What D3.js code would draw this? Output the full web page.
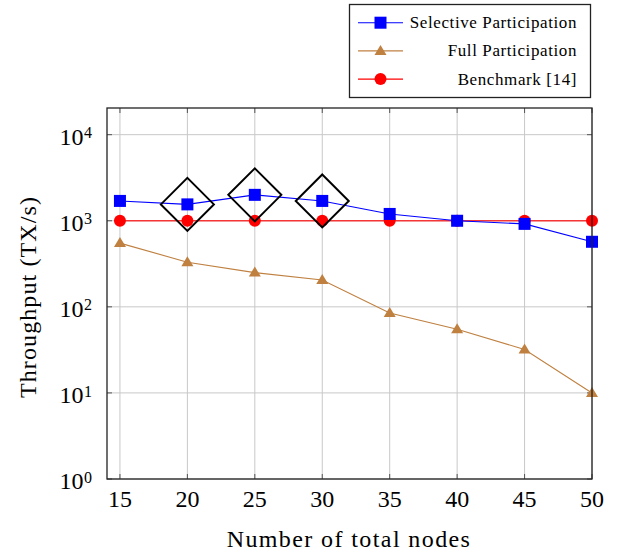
<!DOCTYPE html>
<html>
<head>
<meta charset="utf-8">
<script src="https://cdn.jsdelivr.net/npm/d3@7"></script>
<style>
  body { margin: 0; background: #fff; }
  text { font-family: "Liberation Serif", "DejaVu Serif", serif; }
</style>
</head>
<body>
<div id="chart"></div>
<script>
// data
const nodes = [15, 20, 25, 30, 35, 40, 45, 50];
const selective = [1700, 1550, 2000, 1700, 1200, 1000, 920, 570];
const full = [550, 330, 250, 205, 85, 55, 32, 10];
const benchmark = [1000, 1000, 1000, 1000, 1000, 1000, 1000, 1000];
const highlighted = [20, 25, 30];
const yTicks = [1, 10, 100, 1000, 10000];
const seriesNames = ["Selective Participation", "Full Participation", "Benchmark [14]"];

const width = 619;
const height = 554;
const margin = { top: 108, right: 27, bottom: 75, left: 107 };

const svg = d3.select("#chart")
  .append("svg")
  .attr("width", width)
  .attr("height", height);

const x = d3.scaleLinear()
  .domain([14.04, 50])
  .range([margin.left, width - margin.right]);

const y = d3.scaleLog()
  .domain([1, Math.pow(10, 4.31)])
  .range([height - margin.bottom, margin.top]);

const x0 = margin.left, x1 = width - margin.right;
const y0 = height - margin.bottom, y1 = margin.top;

// grid
svg.append("g").selectAll("line")
  .data(nodes)
  .enter().append("line")
  .attr("x1", d => x(d)).attr("x2", d => x(d))
  .attr("y1", y0).attr("y2", y1)
  .attr("stroke", "#c8c8c8").attr("stroke-width", 1);

svg.append("g").selectAll("line")
  .data(yTicks)
  .enter().append("line")
  .attr("x1", x0).attr("x2", x1)
  .attr("y1", d => y(d)).attr("y2", d => y(d))
  .attr("stroke", "#c8c8c8").attr("stroke-width", 1);

// inner tick marks on all four sides
const tickLen = 5;
nodes.forEach(d => {
  svg.append("line").attr("x1", x(d)).attr("x2", x(d)).attr("y1", y0).attr("y2", y0 - tickLen)
    .attr("stroke", "#555");
  svg.append("line").attr("x1", x(d)).attr("x2", x(d)).attr("y1", y1).attr("y2", y1 + tickLen)
    .attr("stroke", "#555");
});
yTicks.forEach(d => {
  svg.append("line").attr("x1", x0).attr("x2", x0 + tickLen).attr("y1", y(d)).attr("y2", y(d))
    .attr("stroke", "#555");
  svg.append("line").attr("x1", x1).attr("x2", x1 - tickLen).attr("y1", y(d)).attr("y2", y(d))
    .attr("stroke", "#555");
});

// tick labels
svg.append("g").selectAll("text")
  .data(nodes)
  .enter().append("text")
  .attr("x", d => x(d))
  .attr("y", y0 + 28)
  .attr("text-anchor", "middle")
  .attr("font-size", 24)
  .text(d => d);

svg.append("g").selectAll("text")
  .data(yTicks)
  .enter().append("text")
  .attr("x", 83.5)
  .attr("y", d => y(d) + 10.3)
  .attr("text-anchor", "end")
  .attr("font-size", 24)
  .text("10");
svg.append("g").selectAll("text")
  .data(yTicks)
  .enter().append("text")
  .attr("x", 84)
  .attr("y", d => y(d) + 3.6)
  .attr("font-size", 16)
  .text(d => Math.round(Math.log10(d)));

// axis titles
svg.append("text")
  .attr("x", 349)
  .attr("y", 547)
  .attr("text-anchor", "middle")
  .attr("font-size", 24)
  .attr("letter-spacing", 1.4)
  .text("Number of total nodes");

svg.append("text")
  .attr("transform", `translate(36,297) rotate(-90)`)
  .attr("text-anchor", "middle")
  .attr("font-size", 24)
  .attr("letter-spacing", 1.1)
  .text("Throughput (TX/s)");

// series
const line = d3.line().x(d => x(d[0])).y(d => y(d[1]));
const colors = ["#0000ff", "#bf8040", "#ff0000"];
const allSeries = [selective, full, benchmark];

function drawMarker(g, kind, cx, cy) {
  if (kind === 0) {
    g.append("rect").attr("x", cx - 6).attr("y", cy - 6).attr("width", 12).attr("height", 12)
      .attr("fill", colors[0]);
  } else if (kind === 1) {
    g.append("path")
      .attr("d", `M${cx},${cy - 6}L${cx + 6},${cy + 4}L${cx - 6},${cy + 4}Z`)
      .attr("fill", colors[1]);
  } else {
    g.append("circle").attr("cx", cx).attr("cy", cy).attr("r", 6).attr("fill", colors[2]);
  }
}

// draw order: red, brown, blue on top
[2, 1, 0].forEach(k => {
  const pts = nodes.map((n, i) => [n, allSeries[k][i]]);
  svg.append("path")
    .attr("d", line(pts))
    .attr("fill", "none")
    .attr("stroke", colors[k])
    .attr("stroke-opacity", k === 2 ? 0.75 : 1)
    .attr("stroke-width", k === 2 ? 1.6 : 1.1);
  const g = svg.append("g");
  pts.forEach(p => drawMarker(g, k, x(p[0]), y(p[1])));
});

// highlighted points (diamonds)
const hs = 26.5;
highlighted.forEach(n => {
  const v = selective[nodes.indexOf(n)];
  const cx = x(n), cy = y(v);
  svg.append("path")
    .attr("d", `M${cx},${cy - hs}L${cx + hs},${cy}L${cx},${cy + hs}L${cx - hs},${cy}Z`)
    .attr("fill", "none")
    .attr("stroke", "#000")
    .attr("stroke-width", 2);
});

// frame
svg.append("rect")
  .attr("x", x0).attr("y", y1)
  .attr("width", x1 - x0).attr("height", y0 - y1)
  .attr("fill", "none")
  .attr("stroke", "#222")
  .attr("stroke-width", 1.3);

// legend
const lg = svg.append("g");
lg.append("rect")
  .attr("x", 349.5).attr("y", 4.5)
  .attr("width", 241).attr("height", 93)
  .attr("fill", "#fff")
  .attr("stroke", "#222")
  .attr("stroke-width", 1.3);
seriesNames.forEach((name, k) => {
  const ry = 22.7 + k * 28.2;
  lg.append("line")
    .attr("x1", 358).attr("x2", 403)
    .attr("y1", ry).attr("y2", ry)
    .attr("stroke", colors[k])
    .attr("stroke-width", 1.1);
  drawMarker(lg, k, 380.5, ry);
  lg.append("text")
    .attr("x", 577)
    .attr("y", ry + 5.5)
    .attr("text-anchor", "end")
    .attr("font-size", 17)
    .attr("letter-spacing", 0.6)
    .text(name);
});
</script>
</body>
</html>
